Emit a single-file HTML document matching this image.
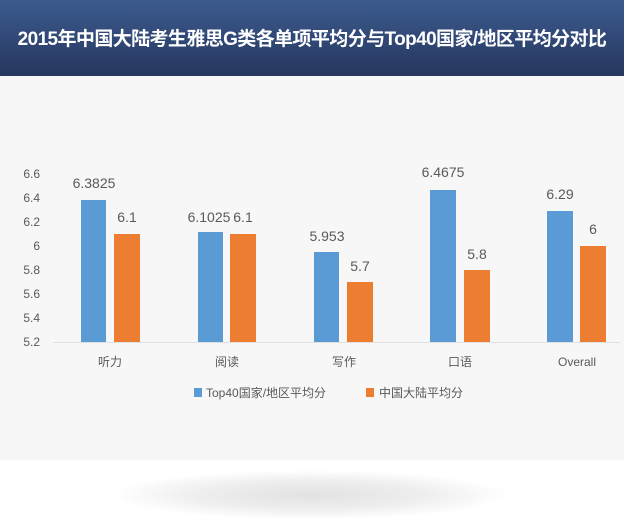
<!DOCTYPE html>
<html><head><meta charset="utf-8"><style>
body{margin:0;width:624px;height:527px;background:#fff;overflow:hidden;position:relative;font-family:"Liberation Sans","Noto Sans CJK SC",sans-serif}
.hd{position:absolute;left:0;top:0;width:624px;height:76px;background:linear-gradient(#3c5b8f,#26365e);color:#fff;font-weight:bold;font-size:19px;text-align:center;line-height:80px;letter-spacing:-0.6px;font-family:"Liberation Sans","Noto Sans CJK SC",sans-serif;white-space:nowrap}
.bg{position:absolute;left:0;top:76px;width:624px;height:384px;background:#f7f7f7}
.sh{position:absolute;left:110px;top:470px;width:400px;height:50px;border-radius:50%;background:radial-gradient(ellipse at center,#e2e2e2 0%,#eeeeee 40%,rgba(255,255,255,0) 70%)}
</style></head><body>
<div class="hd">2015年中国大陆考生雅思G类各单项平均分与Top40国家/地区平均分对比</div>
<div class="bg"></div>
<div class="sh"></div>
<svg width="624" height="527" style="position:absolute;left:0;top:0" font-family="Liberation Sans, Noto Sans CJK SC, sans-serif">
<g fill="#595959" font-size="12" text-anchor="end">
<text x="40" y="178">6.6</text><text x="40" y="202">6.4</text><text x="40" y="226">6.2</text><text x="40" y="250">6</text><text x="40" y="274">5.8</text><text x="40" y="298">5.6</text><text x="40" y="322">5.4</text><text x="40" y="346">5.2</text>
</g>
<line x1="53" y1="342.5" x2="620" y2="342.5" stroke="#e0e0e0"/>
<g fill="#5b9bd5">
<rect x="81" y="200" width="25" height="142"/><rect x="198" y="232" width="25" height="110"/><rect x="314" y="252" width="25" height="90"/><rect x="430" y="190" width="26" height="152"/><rect x="547" y="211" width="26" height="131"/>
</g>
<g fill="#ed7d31">
<rect x="114" y="234" width="26" height="108"/><rect x="230" y="234" width="26" height="108"/><rect x="347" y="282" width="26" height="60"/><rect x="464" y="270" width="26" height="72"/><rect x="580" y="246" width="26" height="96"/>
</g>
<g fill="#595959" font-size="14" text-anchor="middle">
<text x="94" y="188">6.3825</text><text x="127" y="222">6.1</text>
<text x="209" y="222">6.1025</text><text x="243" y="222">6.1</text>
<text x="327" y="241">5.953</text><text x="360" y="271">5.7</text>
<text x="443" y="177">6.4675</text><text x="477" y="259">5.8</text>
<text x="560" y="199">6.29</text><text x="593" y="234">6</text>
</g>
<g fill="#595959" font-size="12" text-anchor="middle">
<text x="110" y="366">听力</text><text x="227" y="366">阅读</text><text x="344" y="366">写作</text><text x="460" y="366">口语</text><text x="577" y="366">Overall</text>
</g>
<rect x="194" y="388" width="8" height="9" fill="#5b9bd5"/>
<text x="206" y="397" font-size="12" fill="#595959">Top40国家/地区平均分</text>
<rect x="366" y="388" width="8" height="9" fill="#ed7d31"/>
<text x="379" y="397" font-size="12" fill="#595959">中国大陆平均分</text>
</svg>
</body></html>
